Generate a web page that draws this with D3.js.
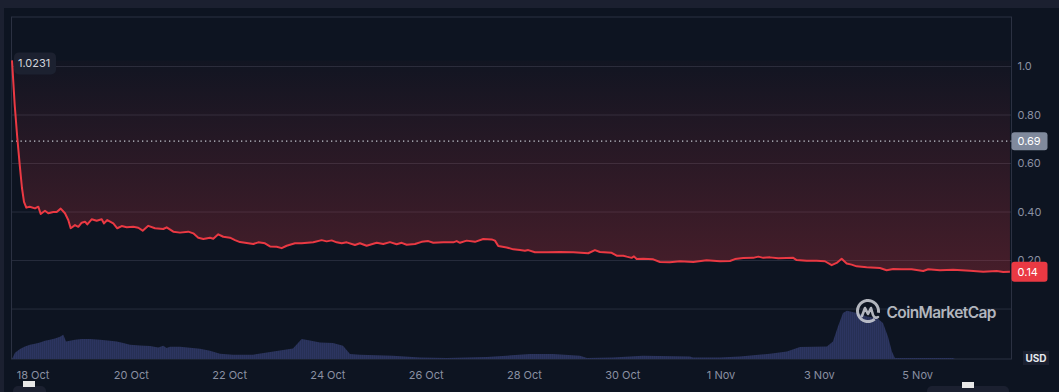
<!doctype html>
<html>
<head>
<meta charset="utf-8">
<script src="https://cdnjs.cloudflare.com/ajax/libs/d3/7.8.5/d3.min.js"></script>
<style>
  html, body { margin: 0; padding: 0; background: #0d1421; }
  svg { display: block; font-family: Inter, "Noto Sans", sans-serif; }
</style>
</head>
<body>
<svg id="chart" width="1059" height="392"></svg>
<script>
// days after 18 Oct 00:00 (local), price in USD
var priceDays = [-0.417,-0.362,-0.309,-0.260,-0.214,-0.173,-0.126,-0.057,0.051,0.118,0.167,0.254,0.321,0.423,0.492,0.574,0.661,0.728,0.777,0.865,0.932,1.001,1.068,1.115,1.204,1.306,1.408,1.455,1.522,1.644,1.725,1.815,1.917,2.051,2.153,2.242,2.356,2.492,2.661,2.730,2.865,3.001,3.170,3.272,3.373,3.475,3.611,3.679,3.780,3.882,4.018,4.120,4.222,4.391,4.492,4.594,4.730,4.832,4.968,5.070,5.172,5.341,5.477,5.713,5.884,5.986,6.087,6.189,6.291,6.393,6.561,6.663,6.799,7.003,7.137,7.274,7.410,7.512,7.613,7.782,7.918,8.053,8.155,8.358,8.562,8.631,8.698,8.834,9.003,9.172,9.343,9.410,9.477,9.648,9.782,9.919,10.020,10.087,10.224,10.462,10.733,11.003,11.308,11.444,11.546,11.784,11.886,12.020,12.090,12.191,12.238,12.293,12.427,12.631,12.767,12.970,13.174,13.444,13.717,13.988,14.191,14.293,14.462,14.665,14.767,14.869,15.005,15.174,15.345,15.479,15.548,15.752,15.955,16.124,16.261,16.362,16.464,16.566,16.667,16.769,16.972,17.243,17.379,17.514,17.685,17.888,18.124,18.226,18.464,18.735,19.075,19.345,19.618,19.752,19.888];
var priceValues = [1.0231,0.839,0.703,0.592,0.497,0.440,0.416,0.420,0.413,0.420,0.390,0.403,0.393,0.398,0.398,0.412,0.393,0.365,0.331,0.344,0.337,0.354,0.358,0.347,0.368,0.362,0.368,0.351,0.365,0.351,0.331,0.340,0.335,0.337,0.333,0.321,0.341,0.331,0.328,0.335,0.317,0.313,0.317,0.310,0.292,0.287,0.292,0.288,0.306,0.296,0.292,0.282,0.274,0.269,0.266,0.273,0.269,0.256,0.255,0.249,0.259,0.269,0.269,0.273,0.282,0.277,0.281,0.273,0.269,0.273,0.262,0.269,0.259,0.271,0.266,0.274,0.265,0.271,0.263,0.266,0.275,0.278,0.271,0.273,0.273,0.278,0.271,0.280,0.275,0.287,0.285,0.280,0.258,0.252,0.244,0.241,0.238,0.241,0.232,0.232,0.233,0.232,0.228,0.241,0.233,0.230,0.218,0.218,0.214,0.209,0.215,0.204,0.205,0.203,0.192,0.191,0.195,0.192,0.199,0.195,0.196,0.204,0.208,0.209,0.214,0.209,0.211,0.207,0.208,0.209,0.200,0.197,0.197,0.195,0.179,0.188,0.205,0.186,0.181,0.174,0.170,0.167,0.158,0.163,0.162,0.162,0.155,0.162,0.158,0.160,0.156,0.152,0.155,0.151,0.152];

// volume (relative units)
var volumeDays = [-0.417,-0.356,-0.254,-0.153,-0.051,0.051,0.153,0.254,0.356,0.458,0.560,0.627,0.682,0.763,0.865,1.001,1.170,1.373,1.577,1.713,1.847,1.984,2.187,2.391,2.559,2.661,2.730,2.798,3.001,3.408,3.611,3.815,4.079,4.486,4.771,5.036,5.300,5.477,5.646,5.850,6.114,6.318,6.460,6.663,7.334,7.884,8.433,9.247,10.122,10.590,11.139,11.282,11.811,12.421,13.377,13.439,13.988,14.395,15.005,15.351,15.616,16.165,16.287,16.389,16.491,16.572,16.776,16.979,17.183,17.305,17.406,17.487,17.548,18.728,18.769,19.888];
var volumeValues = [0,6.3,10,12.6,14.3,15.3,16.6,18.3,19.3,20.6,22.3,24.3,17.6,18.3,19.3,20,20,19.3,18.3,17.6,16,14.3,13.6,13,11.6,13.3,11,12.3,12.3,10.3,8.3,5.3,4.3,4.3,6.6,8.6,10.6,20,18.6,16.6,16,13.3,5,4.3,3.3,1.6,1,2,5,5,3.3,1,1.6,3.3,2.6,1.6,1.6,2.6,5.3,7.6,12,12.6,17.6,32.6,46,48.3,46,42.6,41,36,22.6,7.6,1,1,0,0];

var yTicks = [0.2, 0.4, 0.6, 0.8, 1.0];
var xTickDays = [0, 2, 4, 6, 8, 10, 12, 14, 16, 18];
var openPrice = 1.0231;
var refPrice = 0.69;
var lastLabel = "0.14";

var base = new Date(2023, 9, 18);
function toDate(d) { return new Date(base.getTime() + d * 86400000); }

var prices = priceDays.map((d, i) => ({t: toDate(d), v: priceValues[i]}));
var volumes = volumeDays.map((d, i) => ({t: toDate(d), v: volumeValues[i]}));

var svg = d3.select("#chart");
var W = 1059, H = 392;
var pLeft = 11.5, pRight = 1011.5, pTop = 17, pBottom = 359;

var x = d3.scaleTime().domain([toDate(-0.417), toDate(19.92)]).range([12, pRight]);
var y = d3.scaleLinear().domain([-0.208, 1.202]).range([pBottom, pTop]);
var yv = d3.scaleLinear().domain([0, 50]).range([pBottom, pBottom - 50]);

// backdrop
svg.append("rect").attr("width", W).attr("height", H).attr("fill", "#0d1421");
svg.append("rect").attr("width", W).attr("height", 8).attr("fill", "#1b2030");
svg.append("rect").attr("y", 8).attr("width", 4).attr("height", H - 8).attr("fill", "#1b2030");

var defs = svg.append("defs");
var grad = defs.append("linearGradient").attr("id", "redfill")
  .attr("gradientUnits", "userSpaceOnUse")
  .attr("x1", 0).attr("x2", 0).attr("y1", y(openPrice)).attr("y2", y(0.14));
grad.append("stop").attr("offset", 0).attr("stop-color", "#ea3943").attr("stop-opacity", 0.02);
grad.append("stop").attr("offset", 1).attr("stop-color", "#ea3943").attr("stop-opacity", 0.26);

var pat = defs.append("pattern").attr("id", "bars")
  .attr("patternUnits", "userSpaceOnUse").attr("width", 2).attr("height", 10);
pat.append("rect").attr("width", 2).attr("height", 10).attr("fill", "#222a4a");
pat.append("rect").attr("width", 1.5).attr("height", 10).attr("fill", "#2c3560");

// grid
svg.append("g")
  .attr("transform", `translate(${pRight},0)`)
  .call(d3.axisLeft(y).tickValues([0].concat(yTicks)).tickSize(pRight - pLeft).tickFormat(""))
  .call(g => g.select(".domain").remove())
  .call(g => g.selectAll("line").attr("stroke", "#272d3c").attr("stroke-width", 1));

// frame
svg.append("rect").attr("x", pLeft).attr("y", pTop).attr("width", pRight - pLeft).attr("height", pBottom - pTop)
  .attr("fill", "none").attr("stroke", "#2b3142").attr("stroke-width", 1);

// volume
svg.append("path").datum(volumes)
  .attr("d", d3.area().x(d => x(d.t)).y0(pBottom).y1(d => yv(d.v)))
  .attr("fill", "url(#bars)");

// filled area between open price and line
svg.append("path").datum(prices)
  .attr("d", d3.area().x(d => x(d.t)).y0(y(openPrice)).y1(d => y(d.v)))
  .attr("fill", "url(#redfill)");

// reference dotted line
svg.append("line").attr("x1", pLeft).attr("x2", pRight)
  .attr("y1", y(refPrice)).attr("y2", y(refPrice))
  .attr("stroke", "#c6cad3").attr("stroke-width", 1.3).attr("stroke-dasharray", "1.3,3.2");

// price line
svg.append("path").datum(prices)
  .attr("d", d3.line().x(d => x(d.t)).y(d => y(d.v)))
  .attr("fill", "none").attr("stroke", "#ea3943").attr("stroke-width", 2)
  .attr("stroke-linejoin", "round");

// watermark
var wm = svg.append("g").attr("transform", "translate(868,311)").attr("opacity", 0.85);
wm.append("path")
  .attr("d", d3.arc().innerRadius(9).outerRadius(12).startAngle(Math.PI * 0.78).endAngle(Math.PI * 2.55)())
  .attr("fill", "#cfd2d9");
wm.append("path").attr("d", "M-6,5 L-3,-3 L0,3 L3,-3 L5,4 Q7,8 10,6")
  .attr("fill", "none").attr("stroke", "#cfd2d9").attr("stroke-width", 2.6)
  .attr("stroke-linejoin", "round").attr("stroke-linecap", "round");
svg.append("text").attr("x", 886.5).attr("y", 317.5)
  .attr("font-size", 15.5).attr("font-weight", 600).attr("fill", "#cfd2d9").attr("opacity", 0.85)
  .attr("textLength", 110).text("CoinMarketCap");

// y labels
svg.append("g")
  .attr("transform", `translate(${pRight},0)`)
  .call(d3.axisRight(y).tickValues(yTicks).tickSize(0).tickPadding(6)
    .tickFormat(v => v === 1 ? "1.0" : d3.format(".2f")(v)))
  .call(g => g.select(".domain").remove())
  .call(g => g.selectAll("text").attr("fill", "#8a90a2").attr("font-size", 11).attr("font-family", "Inter, sans-serif"));

// x labels
svg.append("g")
  .attr("transform", `translate(0,${pBottom + 6})`)
  .call(d3.axisBottom(x).tickValues(xTickDays.map(toDate)).tickSize(0).tickPadding(6)
    .tickFormat(d3.timeFormat("%-d %b")))
  .call(g => g.select(".domain").remove())
  .call(g => g.selectAll("text").attr("fill", "#8a90a2").attr("font-size", 11).attr("font-family", "Inter, sans-serif"));

// price badges
function badge(v, label, fill, h) {
  var cy = y(v);
  svg.append("rect").attr("x", pRight).attr("y", cy - h / 2).attr("width", 36).attr("height", h)
    .attr("rx", 3).attr("fill", fill);
  svg.append("text").attr("x", pRight + 6).attr("y", cy + 4).attr("font-size", 11)
    .attr("fill", "#ffffff").text(label);
}
badge(refPrice, d3.format(".2f")(refPrice), "#808a9d", 18);
badge(priceValues[priceValues.length - 1], lastLabel, "#ea3943", 20);

// open price tag
svg.append("rect").attr("x", 14).attr("y", y(openPrice) - 8).attr("width", 42).attr("height", 22)
  .attr("rx", 5).attr("fill", "#1c2130");
svg.append("text").attr("x", 18).attr("y", y(openPrice) + 7).attr("font-size", 11)
  .attr("fill", "#d2d5dc").text(d3.format(".4f")(openPrice));

// currency tag
svg.append("rect").attr("x", 1023).attr("y", 351).attr("width", 26).attr("height", 14).attr("fill", "#1b2030");
svg.append("text").attr("x", 1036).attr("y", 362).attr("text-anchor", "middle")
  .attr("font-size", 10).attr("font-weight", 700).attr("fill", "#e6e8ee").text("USD");

// scrollbar bits at the bottom
svg.append("rect").attr("x", 13).attr("y", 386).attr("width", 33).attr("height", 10).attr("rx", 5).attr("fill", "#1b2030");
svg.append("rect").attr("x", 23).attr("y", 381).attr("width", 12).attr("height", 6).attr("fill", "#e8e8e8");
svg.append("rect").attr("x", 927).attr("y", 386).attr("width", 82).attr("height", 10).attr("rx", 5).attr("fill", "#1b2030");
svg.append("rect").attr("x", 962).attr("y", 382).attr("width", 12).attr("height", 6).attr("fill", "#e8e8e8");
</script>
</body>
</html>
